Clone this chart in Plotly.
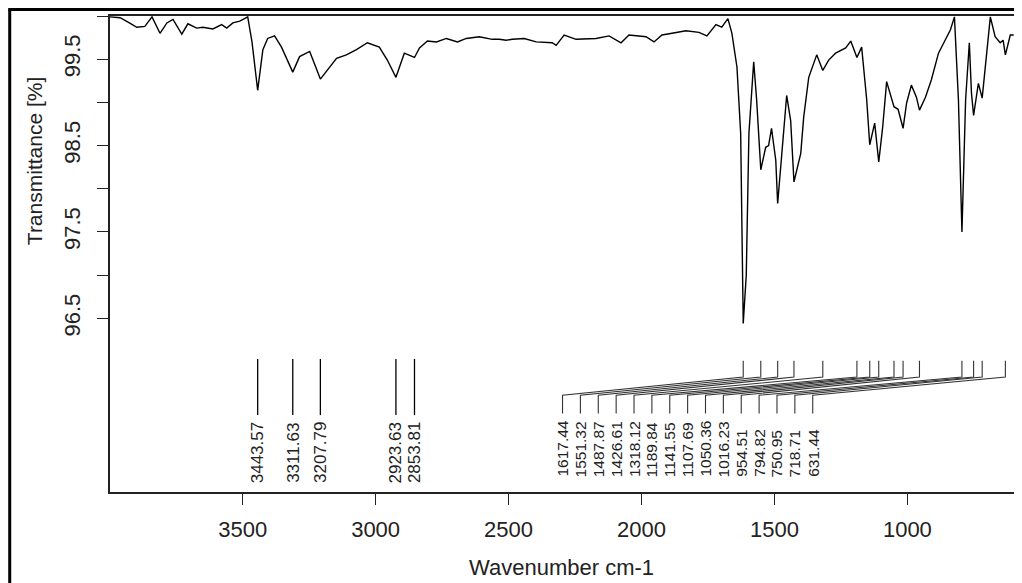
import plotly.graph_objects as go

# ---- spectrum data ----
wavenumber = [3999, 3961, 3931, 3898, 3868, 3841, 3811, 3785, 3762, 3729, 3706, 3673, 3650, 3612,
              3579, 3560, 3537, 3511, 3481, 3465, 3443.6, 3424, 3406, 3380, 3354, 3311.6, 3286,
              3248, 3207.8, 3173, 3147, 3110, 3072, 3031, 2986, 2956, 2923.6, 2892, 2853.8, 2835,
              2805, 2771, 2734, 2692, 2659, 2610, 2561, 2535, 2509, 2486, 2441, 2396, 2336, 2321,
              2291, 2246, 2171, 2122, 2077, 2047, 1983, 1953, 1923, 1885, 1833, 1784, 1754, 1720,
              1698, 1675, 1660, 1641, 1627, 1617.4, 1606, 1596, 1578, 1567, 1551.3, 1533, 1522,
              1511, 1495, 1487.9, 1472, 1454, 1439, 1426.6, 1401, 1390, 1371, 1341, 1318.1, 1296,
              1270, 1232, 1213, 1189.8, 1172, 1153, 1141.6, 1123, 1107.7, 1093, 1078, 1059, 1050.4,
              1035, 1016.2, 1003, 985, 966, 954.5, 932, 910, 883, 857, 838, 823, 808, 794.8, 781,
              767, 759, 751.0, 733, 718.7, 707, 688, 670, 651, 640, 631.4, 613, 600]
transmittance = [99.99, 99.98, 99.93, 99.87, 99.88, 99.99, 99.80, 99.92, 99.96, 99.79, 99.91, 99.86,
                 99.87, 99.85, 99.90, 99.86, 99.92, 99.94, 99.99, 99.70, 99.14, 99.61, 99.74, 99.77,
                 99.64, 99.35, 99.53, 99.59, 99.27, 99.41, 99.51, 99.55, 99.61, 99.69, 99.64, 99.49,
                 99.29, 99.57, 99.52, 99.63, 99.71, 99.70, 99.74, 99.70, 99.74, 99.76, 99.73, 99.73,
                 99.72, 99.73, 99.74, 99.70, 99.69, 99.66, 99.78, 99.73, 99.74, 99.77, 99.69, 99.78,
                 99.76, 99.70, 99.78, 99.80, 99.83, 99.81, 99.77, 99.90, 99.87, 99.97, 99.80, 99.41,
                 98.64, 96.44, 97.00, 98.64, 99.47, 99.03, 98.22, 98.48, 98.50, 98.70, 98.33, 97.83,
                 98.45, 99.08, 98.79, 98.08, 98.41, 98.83, 99.29, 99.55, 99.37, 99.49, 99.57, 99.63,
                 99.71, 99.52, 99.64, 99.03, 98.51, 98.76, 98.31, 98.71, 99.24, 99.03, 98.95, 98.92,
                 98.70, 98.99, 99.20, 99.06, 98.91, 99.06, 99.26, 99.57, 99.72, 99.84, 99.99, 99.03,
                 97.50, 99.03, 99.69, 99.11, 98.85, 99.22, 99.05, 99.41, 99.99, 99.76, 99.69, 99.72,
                 99.55, 99.78, 99.78]

# peaks labelled directly above their position
peaks_direct = [3443.57, 3311.63, 3207.79, 2923.63, 2853.81]
# peaks whose labels are spread out with leader lines
peaks_spread = [1617.44, 1551.32, 1487.87, 1426.61, 1318.12, 1189.84, 1141.55, 1107.69,
                1050.36, 1016.23, 954.51, 794.82, 750.95, 718.71, 631.44]

x_ticks = [3500, 3000, 2500, 2000, 1500, 1000]
y_ticks = [96.5, 97.0, 97.5, 98.0, 98.5, 99.0, 99.5, 100.0]
y_ticktext = ["96.5", "", "97.5", "", "98.5", "", "99.5", ""]

# ---- layout constants ----
OFF = 8                      # page body margin of the browser
W, H = 1022 - OFF, 583 - OFF
ML, MT = 110 - OFF, 16 - OFF
MR = W - (1016 - OFF)
MB = H - (492 - OFF)
X_RANGE = [3999, 599]
Y_RANGE = [94.49, 100.0]
FONT = "Liberation Sans, Arial, sans-serif"
INK = "#222222"
SPREAD_START, SPREAD_END = 2297, 1356

fig = go.Figure()
fig.add_trace(go.Scatter(x=wavenumber, y=transmittance, mode="lines",
                         line=dict(color="black", width=1.4), hoverinfo="skip"))

# direct label ticks
lx, ly = [], []
for p in peaks_direct:
    lx += [p, p, None]
    ly += [96.03, 95.38, None]
fig.add_trace(go.Scatter(x=lx, y=ly, mode="lines", line=dict(color="black", width=1.3),
                         hoverinfo="skip"))

# spread label ticks with leaders
n = len(peaks_spread)
spread_pos = [SPREAD_START + (SPREAD_END - SPREAD_START) * i / (n - 1) for i in range(n)]
sx, sy = [], []
for p, s in zip(peaks_spread, spread_pos):
    sx += [p, p, s, s, None]
    sy += [96.01, 95.82, 95.61, 95.40, None]
fig.add_trace(go.Scatter(x=sx, y=sy, mode="lines", line=dict(color="#333333", width=1.1),
                         hoverinfo="skip"))

annotations = []
for p in peaks_direct:
    annotations.append(dict(x=p, y=94.57, xref="x", yref="y", text=f"{p:.2f}", showarrow=False,
                            textangle=-90, xanchor="center", yanchor="bottom",
                            font=dict(family=FONT, size=17, color=INK)))
for p, s in zip(peaks_spread, spread_pos):
    annotations.append(dict(x=s, y=94.64, xref="x", yref="y", text=f"{p:.2f}", showarrow=False,
                            textangle=-90, xanchor="center", yanchor="bottom",
                            font=dict(family=FONT, size=15.5, color=INK)))

pw, ph = W - ML - MR, H - MT - MB
def px(x):      # reference pixel -> paper x
    return (x - OFF - ML) / pw
def py(y):      # reference pixel -> paper y
    return (H - MB - (y - OFF)) / ph

annotations.append(dict(x=px(34), y=py(161), xref="paper", yref="paper", text="Transmittance [%]",
                        showarrow=False, textangle=-90, xanchor="center", yanchor="middle",
                        font=dict(family=FONT, size=21, color=INK)))
annotations.append(dict(x=px(562), y=py(567), xref="paper", yref="paper", text="Wavenumber cm-1",
                        showarrow=False, xanchor="center", yanchor="middle",
                        font=dict(family=FONT, size=22, color=INK)))

shapes = [dict(type="line", xref="paper", yref="paper", x0=px(9.5), y0=py(600), x1=px(9.5), y1=py(9.5),
               line=dict(color="black", width=3)),
          dict(type="line", xref="paper", yref="paper", x0=px(8), y0=py(9.5), x1=px(1040), y1=py(9.5),
               line=dict(color="black", width=3))]

fig.update_layout(
    width=W, height=H, margin=dict(l=ML, r=MR, t=MT, b=MB),
    paper_bgcolor="white", plot_bgcolor="white", showlegend=False,
    annotations=annotations, shapes=shapes,
    xaxis=dict(range=X_RANGE, tickvals=x_ticks, ticks="outside", ticklen=11, tickwidth=1.3,
               tickcolor=INK, showline=True, mirror=True, linecolor=INK, linewidth=1.5,
               showgrid=False, zeroline=False, ticklabelstandoff=6,
               tickfont=dict(family=FONT, size=22, color=INK)),
    yaxis=dict(range=Y_RANGE, tickvals=y_ticks, ticktext=y_ticktext, ticks="outside", ticklen=11,
               tickwidth=1.3, tickcolor=INK, showline=True, mirror=True, linecolor=INK,
               linewidth=1.5, showgrid=False, zeroline=False, tickangle=-90, ticklabelstandoff=8,
               tickfont=dict(family=FONT, size=22, color=INK)),
)

fig.write_html("out.html")
